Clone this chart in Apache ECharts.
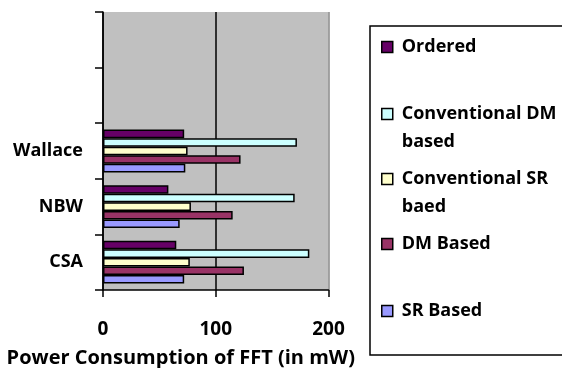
<!DOCTYPE html>
<html>
<head>
<meta charset="utf-8">
<script src="https://cdn.jsdelivr.net/npm/echarts@6/dist/echarts.min.js"></script>
<style>html,body{margin:0;padding:0;background:#fff}#c{width:562px;height:368px}</style>
</head>
<body>
<div id="c"></div>
<script>
var categories = ['CSA', 'NBW', 'Wallace', '', ''];
var xTicks = [0, 100, 200];
var seriesNames = ['Ordered', 'Conventional DM\nbased', 'Conventional SR\nbaed', 'DM Based', 'SR Based'];
var ordered = [65, 58, 72];
var convDM = [183, 170, 172];
var convSR = [77, 78, 75];
var dmBased = [125, 115, 122];
var srBased = [72, 68, 73];
var colors = ['#660066', '#CCFFFF', '#FFFFCC', '#993366', '#9999FF'];

var FONT = 'Open Sans';
var values = [ordered, convDM, convSR, dmBased, srBased];
var legendCenters = [47, 114, 179, 244, 311];

var series = seriesNames.map(function (n, i) {
  return {
    name: n, type: 'bar', data: values[i], barGap: '0%', barCategoryGap: '23%',
    itemStyle: { color: colors[i], borderColor: '#000', borderWidth: 1.5 }
  };
});

var legends = seriesNames.map(function (n, i) {
  var lines = n.split('\n').length;
  var L = 28;
  return {
    data: [n], orient: 'vertical', left: 381,
    top: legendCenters[i] - L / 2 - (lines - 1) * L,
    padding: 0, itemWidth: 11, itemHeight: 11, icon: 'rect',
    itemStyle: { borderColor: '#000', borderWidth: 1.5 },
    formatter: function (name) {
      var extra = name.split('\n').length - 1;
      return new Array(extra + 1).join('\n') + name;
    },
    textStyle: { fontFamily: FONT, fontWeight: 'bold', fontSize: 18, color: '#000', lineHeight: L, padding: [0, 0, 0, 4] },
    selectedMode: false
  };
});

var chart = echarts.init(document.getElementById('c'));
chart.setOption({
  animation: false,
  grid: { left: 103, top: 12, width: 225.5, height: 278, show: true, backgroundColor: '#C0C0C0', borderWidth: 0, outerBoundsMode: 'none', containLabel: false },
  graphic: [{ type: 'rect', z: 0, shape: { x: 370, y: 26, width: 220, height: 329 }, style: { fill: '#fff', stroke: '#000', lineWidth: 1.5 } }],
  legend: legends,
  xAxis: {
    type: 'value', min: xTicks[0], max: xTicks[xTicks.length - 1], interval: 100,
    axisLine: { show: true, lineStyle: { color: '#000', width: 1.5 } },
    axisTick: { show: true, length: 7, lineStyle: { color: '#000', width: 1.5 } },
    splitLine: { show: true, lineStyle: { color: ['#000', '#000', '#888'], width: 1.5 } },
    axisLabel: { fontFamily: FONT, fontWeight: 'bold', fontSize: 19, color: '#000', margin: 30 },
    name: 'Power Consumption of FFT (in mW)', nameLocation: 'middle', nameGap: 58,
    nameTextStyle: { fontFamily: FONT, fontWeight: 'bold', fontSize: 20, color: '#000', padding: [0, 70, 0, 0] }
  },
  yAxis: {
    type: 'category', data: categories,
    axisLine: { show: true, lineStyle: { color: '#000', width: 1.5 } },
    axisTick: { show: true, length: 8, lineStyle: { color: '#000', width: 1.5 } },
    axisLabel: { fontFamily: FONT, fontWeight: 'bold', fontSize: 18, color: '#000', margin: 20, padding: [8, 0, 0, 0] },
    splitLine: { show: false }
  },
  series: series
});
</script>
</body>
</html>
